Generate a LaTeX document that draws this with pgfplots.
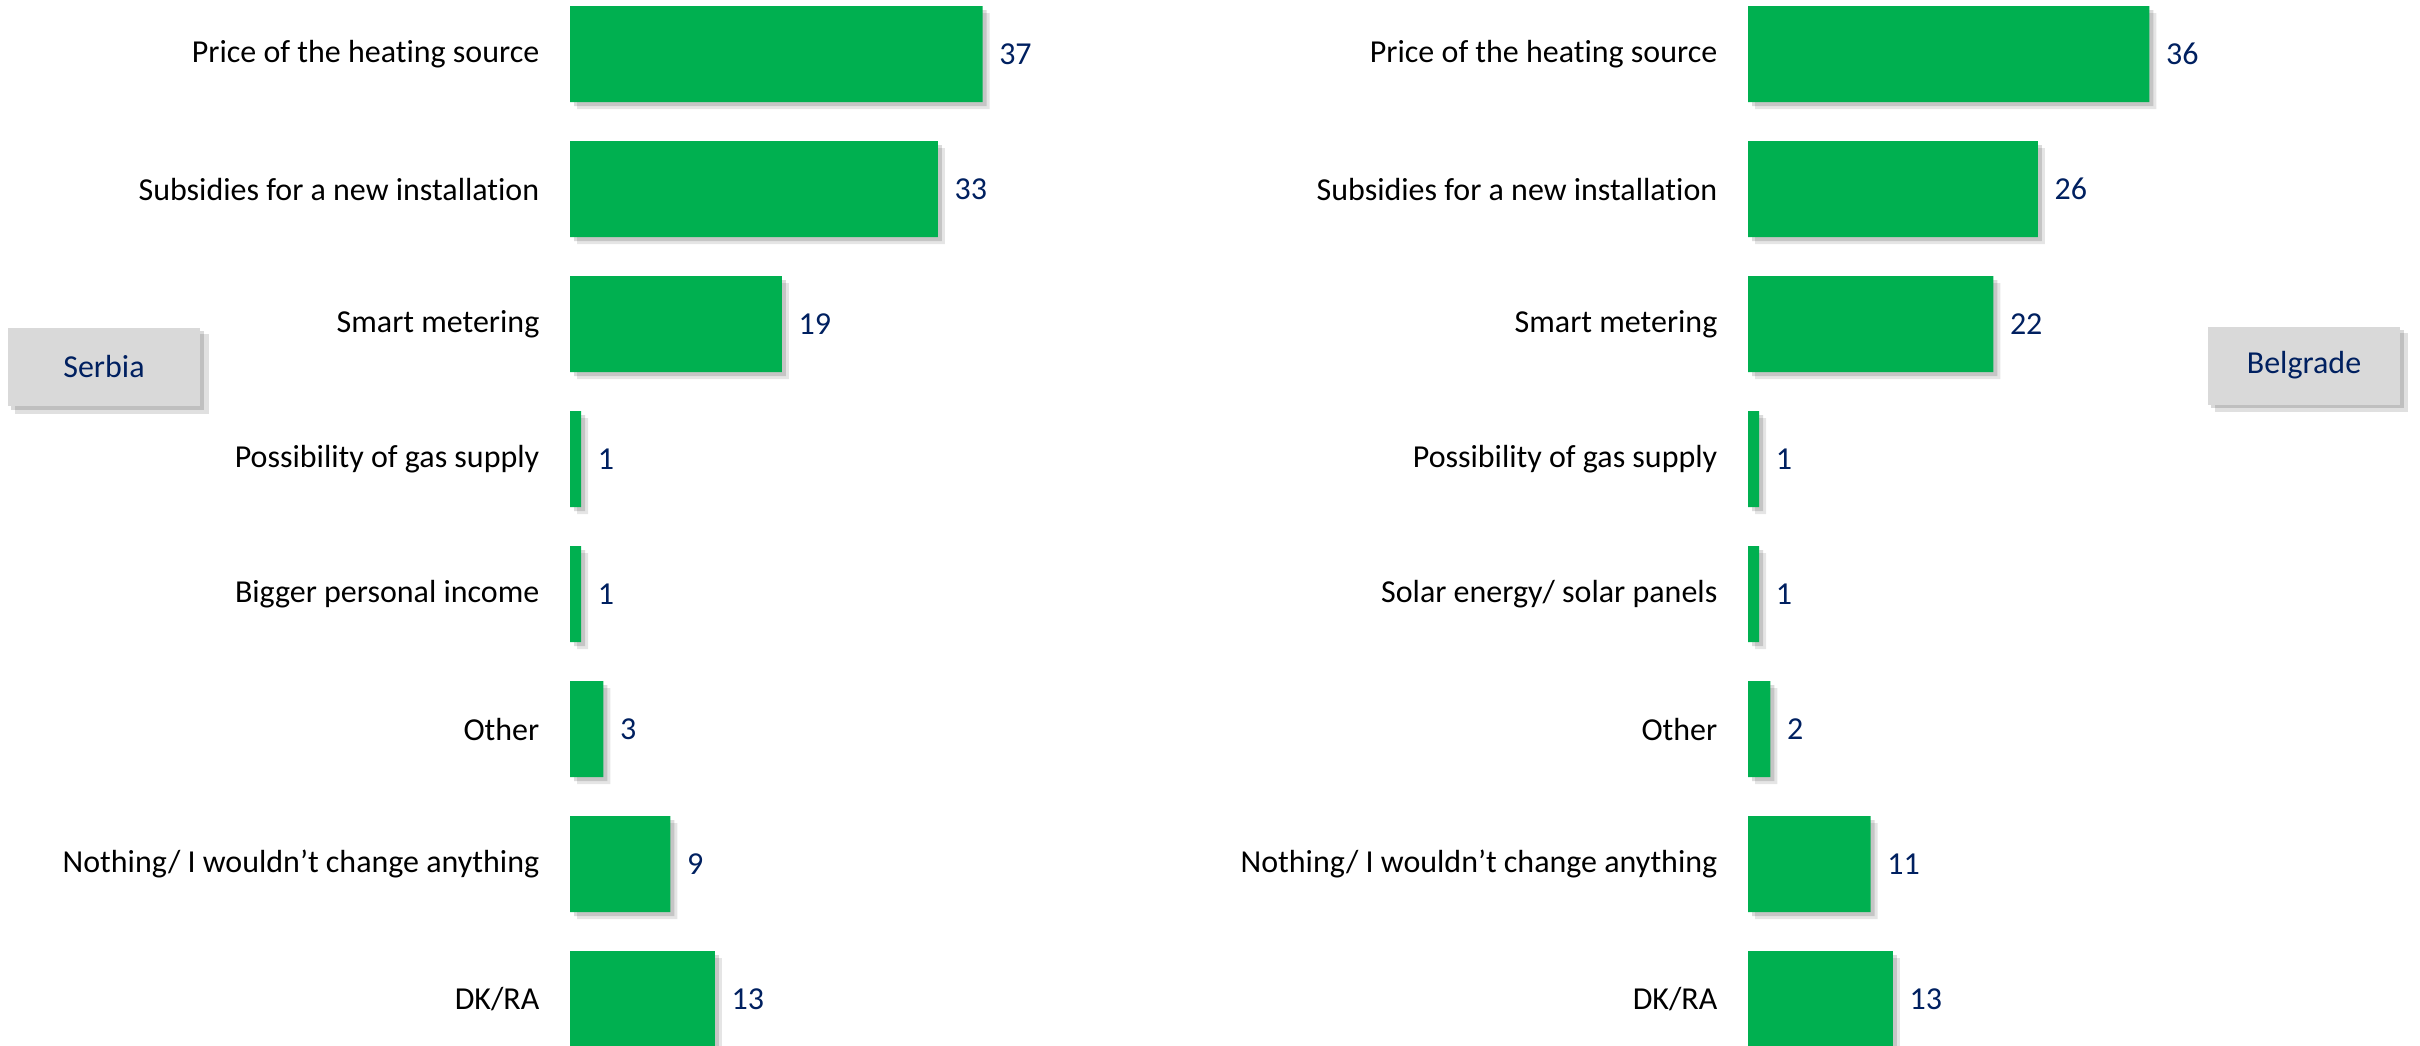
\documentclass[border=0pt]{standalone}
\usepackage{pgfplots}
\usepackage{pgfplotstable}
\pgfplotsset{compat=1.18}
\usepackage{fontspec}
\setmainfont{Carlito}[Ligatures=NoCommon]
\definecolor{bargreen}{HTML}{00B050}
\definecolor{navy}{HTML}{002060}
\definecolor{boxgray}{HTML}{D9D9D9}

\pgfplotstableread{
idx val
0 37
1 33
2 19
3 1
4 1
5 3
6 9
7 13
}\serbia
\pgfplotstableread{
idx val
0 36
1 26
2 22
3 1
4 1
5 2
6 11
7 13
}\belgrade

\newcommand{\lblfont}{\fontsize{9.1}{11}\selectfont}
\pgfplotsset{mybars/.style={
  scale only axis, width=4.46cm, height=10.8cm,
  xmin=0, xmax=40, ymin=-0.5, ymax=7.5, y dir=reverse,
  xbar, bar width=0.96cm, bar shift=0pt,
  axis lines=left, axis line style={draw=none},
  xtick=\empty, ytick={0,...,7}, major tick length=0pt,
  /pgf/number format/assume math mode=true,
  yticklabel style={font=\lblfont, text=black, inner sep=0pt, anchor=east, xshift=-0.3cm},
  clip=false,
  anchor=north west,
}}
\newcommand{\shadowplots}[1]{%
  \addplot[fill=black, opacity=0.10, draw=none, xshift=0.07cm, yshift=-0.07cm] table[x=val,y=idx] {#1};
  \addplot[fill=black, opacity=0.14, draw=none, xshift=0.04cm, yshift=-0.04cm] table[x=val,y=idx] {#1};
  \addplot[fill=bargreen, draw=none, point meta=x, nodes near coords,
    nodes near coords style={font=\lblfont, text=navy, anchor=west, inner sep=0pt, xshift=0.16cm, opacity=1}]
    table[x=val,y=idx] {#1};
}

\begin{document}
\begin{tikzpicture}
\begin{axis}[mybars, at={(5.70cm,0.135cm)},
  yticklabels={Price of the heating source, Subsidies for a new installation, Smart metering, Possibility of gas supply, Bigger personal income, Other, Nothing/ I wouldn’t change anything, DK/RA}]
\shadowplots{\serbia}
\end{axis}
\begin{axis}[mybars, at={(17.48cm,0.135cm)},
  yticklabels={Price of the heating source, Subsidies for a new installation, Smart metering, Possibility of gas supply, Solar energy/ solar panels, Other, Nothing/ I wouldn’t change anything, DK/RA}]
\shadowplots{\belgrade}
\end{axis}
% label boxes
\fill[black, opacity=0.12] (0.15,-3.34) rectangle (2.09,-4.14);
\fill[black, opacity=0.15] (0.11,-3.31) rectangle (2.04,-4.10);
\node[fill=boxgray, minimum width=1.92cm, minimum height=0.78cm, inner sep=0pt, text=navy, font=\lblfont] at (1.04,-3.67) {Serbia};
\fill[black, opacity=0.12] (22.15,-3.33) rectangle (24.08,-4.12);
\fill[black, opacity=0.15] (22.11,-3.30) rectangle (24.04,-4.08);
\node[fill=boxgray, minimum width=1.92cm, minimum height=0.78cm, inner sep=0pt, text=navy, font=\lblfont] at (23.04,-3.655) {Belgrade};
\pgfresetboundingbox
\useasboundingbox (0,-10.45) rectangle (24.2,0);
\end{tikzpicture}
\end{document}
